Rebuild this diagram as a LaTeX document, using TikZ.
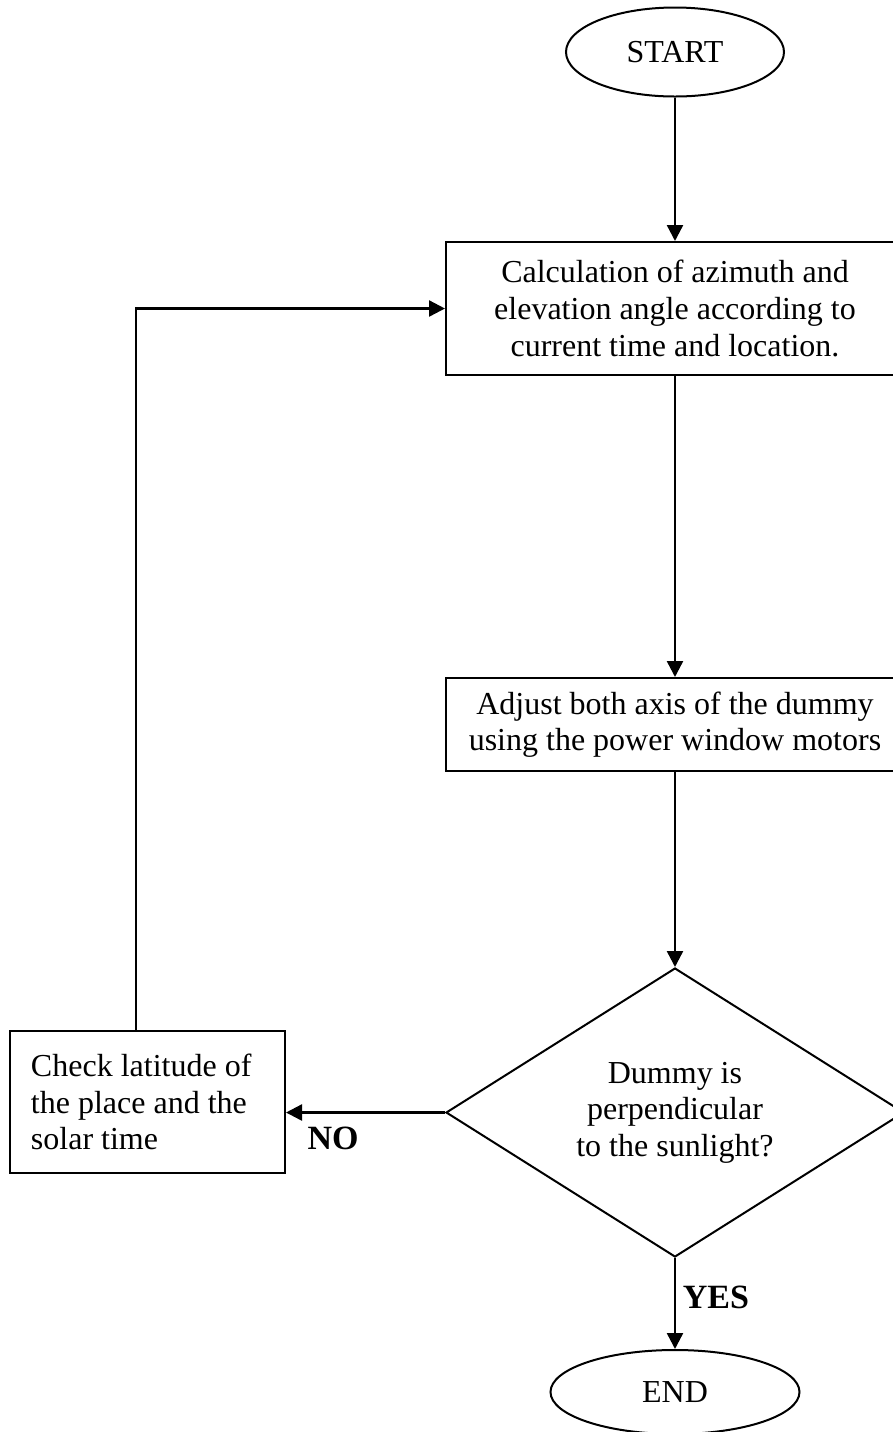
\documentclass[tikz,border=0pt]{standalone}
\usepackage{fontspec}
\setmainfont{Liberation Serif}
\usetikzlibrary{shapes.geometric,arrows.meta}

\tikzset{
  flowbox/.style={draw, line width=1pt, font=\fontsize{16}{18.3}\selectfont, align=center, inner sep=0pt},
  terminal/.style={flowbox, ellipse, minimum width=109pt, minimum height=44.5pt},
  process/.style={flowbox, rectangle, minimum width=229pt},
  decision/.style={flowbox, diamond, aspect=1.58, minimum width=229pt, minimum height=144.5pt},
  flowarrow/.style={line width=1.2pt, -{Triangle[length=8pt,width=8pt]}},
  answer/.style={font=\fontsize{17}{18.3}\selectfont\bfseries}
}

\begin{document}
\begin{tikzpicture}[x=0.5pt, y=-0.5pt]
                \useasboundingbox (0,0) rectangle (893,1432);
                \clip (0,0) rectangle (893,1432);

                \node[terminal] (start) at (675,52) {START};
                \node[process, minimum height=66.5pt] (calc) at (675,308.5) {
                    Calculation of azimuth and\\
                    elevation angle according to\\
                    current time and location.
                };
                \node[process, minimum height=46.5pt] (adjust) at (675,724.5) {
                    Adjust both axis of the dummy\\
                    using the power window motors
                };
                \node[decision] (dec) at (675,1112.5) {
                    Dummy is\\
                    perpendicular\\
                    to the sunlight?
                };
                \node[flowbox, rectangle, align=flush left, text width=116.5pt, inner xsep=10.5pt, minimum height=71pt] (check) at (147.5,1102) {
                    Check latitude of\\
                    the place and the\\
                    solar time
                };
                \node[terminal, minimum width=124.5pt, minimum height=42pt] (end) at (675,1392) {END};
                \coordinate (loop) at (136,0);

                \draw [flowarrow] (start.south) -- (calc.north);
                \draw [flowarrow] (calc.south) -- (adjust.north);
                \draw [flowarrow] (adjust.south) -- (dec.north);
                \draw [flowarrow] (dec.west) -- (dec.west -| check.east);
                \draw [flowarrow] (dec.south) -- (end.north);
                \draw [flowarrow] (check.north -| loop) |- (calc.west);

                \node[answer] (no) at (333,1138) {NO};
                \node[answer] (yes) at (716,1297) {YES};
            \end{tikzpicture}
\end{document}
